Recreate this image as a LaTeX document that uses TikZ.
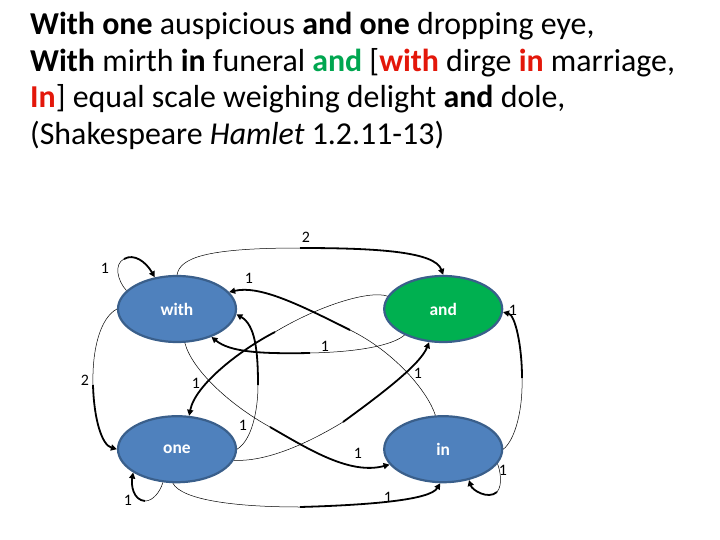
\documentclass[tikz,border=0pt]{standalone}
\usepackage{fontspec}
\setmainfont{Carlito}
\usepackage{xcolor}
\usetikzlibrary{shapes.geometric, arrows.meta, positioning}
\definecolor{wordblue}{HTML}{4F81BD}
\definecolor{wordgreen}{HTML}{00B050}
\definecolor{wordrim}{HTML}{3A5F8B}
\definecolor{versered}{HTML}{E3170A}
\definecolor{versegreen}{HTML}{00A650}

\begin{document}
\begin{tikzpicture}[x=1bp, y=-1bp,
    word/.style={ellipse, draw=wordrim, line width=2.2bp, minimum width=118bp, minimum height=66bp, inner sep=0pt, fill=#1, text=white, font=\fontsize{17.5}{20}\selectfont\bfseries},
    tail/.style={line width=0.5bp},
    head/.style={line width=1.8bp, -{Triangle[length=6bp, width=6bp]}},
    lbl/.style={font=\fontsize{16}{19}\selectfont, inner sep=0pt},
]
\useasboundingbox (0,0) rectangle (720,540);

\node[anchor=north west, align=left, inner sep=0pt, font=\fontsize{32}{36.7}\selectfont] (verse) at (30,12)
  {\textbf{With one} auspicious \textbf{and one} dropping eye,\\
   \textbf{With} mirth \textbf{in} funeral \textcolor{versegreen}{\textbf{and}} [\textcolor{versered}{\textbf{with}} dirge \textcolor{versered}{\textbf{in}} marriage,\\
   \textcolor{versered}{\textbf{In}}] equal scale weighing delight \textbf{and} dole,\\
   (Shakespeare \textit{Hamlet} 1.2.11-13)};

\node[word=wordblue] (with) at (177,309) {with};
\node[word=wordgreen, right=146bp of with] (and) {and};
\node[word=wordblue, below=72bp of with] (one) {one};
\node[word=wordblue, below=72bp of and] (in) {in};

% turning points, thin before, thick after
\coordinate (m1) at (124,259);
\coordinate (m2) at (300,248);
\coordinate (m3) at (350,330);
\coordinate (m4) at (522,378);
\coordinate (m5) at (310,353);
\coordinate (m6) at (343,422);
\coordinate (m7) at (93,385);
\coordinate (m8) at (275,332);
\coordinate (m9) at (258,385);
\coordinate (m10) at (270,427);
\coordinate (m11) at (497,492);
\coordinate (m12) at (145,501);
\coordinate (m13) at (300,507);

% Arrows
\draw[tail] (with.160) .. controls (117,280) and (114,264) .. (m1);
\draw[head] (m1) .. controls (134,253) and (146,262) .. (with.125);
\draw[tail] (with.90) .. controls (180,258) and (205,248) .. (m2);
\draw[head] (m2) .. controls (380,248) and (435,252) .. (and.90);
\draw[tail] (in.103) .. controls (428,392) and (395,352) .. (m3);
\draw[head] (m3) .. controls (300,305) and (260,285) .. (with.18);
\draw[tail] (in.0) .. controls (515,440) and (523,410) .. (m4);
\draw[head] (m4) .. controls (522,345) and (515,315) .. (and.-3);
\draw[tail] (and.214) .. controls (393,345) and (360,352) .. (m5);
\draw[head] (m5) .. controls (260,354) and (230,352) .. (with.-39);
\draw[tail] (one.-11) .. controls (265,462) and (305,445) .. (m6);
\draw[head] (m6) .. controls (380,395) and (420,365) .. (and.-113);
\draw[tail] (with.180) .. controls (100,318) and (92,350) .. (m7);
\draw[head] (m7) .. controls (94,420) and (102,445) .. (one.180);
\draw[tail] (and.167) .. controls (370,290) and (320,305) .. (m8);
\draw[head] (m8) .. controls (240,350) and (195,385) .. (one.70);
\draw[tail] (one.0) .. controls (252,440) and (258,410) .. (m9);
\draw[head] (m9) .. controls (258,350) and (255,325) .. (with.-5);
\draw[tail] (with.-77) .. controls (192,370) and (230,405) .. (m10);
\draw[head] (m10) .. controls (310,450) and (350,475) .. (in.196);
\draw[tail] (in.-15) .. controls (500,470) and (503,485) .. (m11);
\draw[head] (m11) .. controls (488,500) and (472,490) .. (in.-50);
\draw[tail] (one.-113) .. controls (160,492) and (153,501) .. (m12);
\draw[head] (m12) .. controls (133,500) and (131,485) .. (one.208);
\draw[tail] (one.-97) .. controls (182,500) and (235,507) .. (m13);
\draw[head] (m13) .. controls (370,505) and (430,500) .. (in.-95);

% counts
\node[lbl] (c1) at (105,268) {1};
\node[lbl] (c2) at (306,237) {2};
\node[lbl] (c3) at (249,278) {1};
\node[lbl] (c4) at (513,310) {1};
\node[lbl] (c5) at (325,346) {1};
\node[lbl] (c6) at (418,373) {1};
\node[lbl] (c7) at (85,380) {2};
\node[lbl] (c8) at (196,383) {1};
\node[lbl] (c9) at (243,425) {1};
\node[lbl] (c10) at (358,453) {1};
\node[lbl] (c11) at (503,470) {1};
\node[lbl] (c12) at (128,500) {1};
\node[lbl] (c13) at (388,497) {1};

\end{tikzpicture}
\end{document}
